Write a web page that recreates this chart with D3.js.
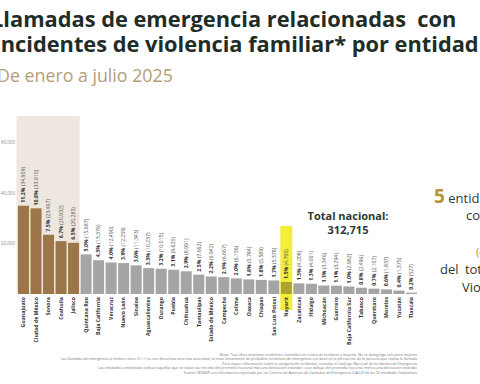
<!DOCTYPE html>
<html>
<head>
<meta charset="utf-8">
<script src="https://cdn.jsdelivr.net/npm/d3@7"></script>
<style>
  body { margin: 0; background: #fff; }
  svg { display: block; font-family: "Open Sans", sans-serif; }
</style>
</head>
<body>
<svg id="chart" width="480" height="384"></svg>
<script>
// entidades, de mayor a menor
const states = ["Guanajuato", "Ciudad de México", "Sonora", "Coahuila", "Jalisco",
  "Quintana Roo", "Baja California", "Veracruz", "Nuevo León", "Sinaloa",
  "Aguascalientes", "Durango", "Puebla", "Chihuahua", "Tamaulipas",
  "Estado de México", "Campeche", "Colima", "Oaxaca", "Chiapas",
  "San Luis Potosí", "Nayarit", "Zacatecas", "Hidalgo", "Michoacán",
  "Guerrero", "Baja California Sur", "Tabasco", "Querétaro", "Morelos",
  "Yucatán", "Tlaxcala"];
const calls = [34959, 33910, 23467, 20932, 20285,
  15687, 13376, 12490, 12259, 11343,
  10237, 10015, 9620, 8991, 7662,
  6942, 6667, 6156, 5784, 5589,
  5378, 4795, 4208, 4061, 3346,
  3294, 2982, 2496, 2107, 1837,
  1375, 527];
const shares = ["11.2%", "10.8%", "7.5%", "6.7%", "6.5%",
  "5.0%", "4.3%", "4.0%", "3.9%", "3.6%",
  "3.3%", "3.2%", "3.1%", "2.9%", "2.5%",
  "2.2%", "2.1%", "2.0%", "1.8%", "1.8%",
  "1.7%", "1.5%", "1.3%", "1.3%", "1.1%",
  "1.1%", "1.0%", "0.8%", "0.7%", "0.6%",
  "0.4%", "0.2%"];
const topStates = ["Guanajuato", "Ciudad de México", "Sonora", "Coahuila", "Jalisco"];
const markedState = "Nayarit";
const totalNacional = 312715;
const yTicks = [20000, 40000, 60000];
const notes = [
  "Nota: *Las cifras muestran incidentes cometidos en contra de hombres y mujeres. No se desagrega solo para mujeres.",
  "Las llamadas de emergencia al número único 9-1-1 no son denuncias ante una autoridad, se trata únicamente de probables incidentes de emergencia con base en la percepción de la persona que realiza la llamada.",
  "Para mayor información sobre la categoría de incidentes, consulta el Catálogo Nacional de Incidentes de Emergencia.",
  "Las entidades sombreadas indican aquellas que se sitúan por encima del promedio nacional más una desviación estándar o por debajo del promedio nacional menos una desviación estándar.",
  "Fuente: SESNSP con información reportada por los Centros de Atención de Llamadas de Emergencia (CALLE) de las 32 entidades federativas."
];

const svg = d3.select("#chart");
const fmt = d3.format(",");

// titulo
svg.append("text").attr("x", -9).attr("y", 27)
  .attr("font-size", 21.8).attr("font-weight", 700).attr("fill", "#1f2d27")
  .style("white-space", "pre")
  .text("Llamadas de emergencia relacionadas  con");
svg.append("text").attr("x", -6.5).attr("y", 52)
  .attr("font-size", 21.8).attr("font-weight", 700).attr("fill", "#1f2d27")
  .text("Incidentes de violencia familiar* por entidad");
svg.append("text").attr("x", -3).attr("y", 82)
  .attr("font-size", 17.8).attr("fill", "#b49d77")
  .text("De enero a julio 2025");

const x = d3.scaleBand().domain(states).range([18, 417]).paddingInner(0.12).paddingOuter(0);
const y = d3.scaleLinear().domain([0, 60000]).range([294, 142.5]);

// fondo de las 5 entidades principales
const xTopEnd = x(topStates[topStates.length - 1]) + x.bandwidth();
svg.append("rect")
  .attr("x", x(topStates[0]) - 1.5).attr("y", 116)
  .attr("width", xTopEnd - x(topStates[0]) + 2).attr("height", y(0) - 116)
  .attr("fill", "#ede7e0");

// resaltado Nayarit
svg.append("rect")
  .attr("x", x(markedState) - 0.5).attr("y", 226)
  .attr("width", x.bandwidth() + 1).attr("height", 84)
  .attr("fill", "#f3ee3a");

// eje y
svg.append("g").selectAll("text").data(yTicks).join("text")
  .attr("x", 15).attr("y", d => y(d)).attr("dy", "0.35em")
  .attr("text-anchor", "end").attr("font-size", 4.5).attr("fill", "#8a8a8a")
  .text(d => fmt(d));

const data = states.map((s, i) => ({ state: s, value: calls[i], share: shares[i] }));

svg.append("g").selectAll("rect").data(data).join("rect")
  .attr("x", d => x(d.state)).attr("y", d => y(d.value))
  .attr("width", x.bandwidth()).attr("height", d => y(0) - y(d.value))
  .attr("fill", d => topStates.includes(d.state) ? "#9c7548"
    : d.state === markedState ? "#aaa52e" : "#a5a5a5");

// etiquetas de valor
const vl = svg.append("g").selectAll("text").data(data).join("text")
  .attr("transform", d => `translate(${x(d.state) + x.bandwidth() / 2 + 1.8},${y(d.value) - 3}) rotate(-90)`)
  .attr("font-size", 5.2).attr("fill", "#333");
vl.append("tspan").attr("font-weight", 700).text(d => d.share);
vl.append("tspan").attr("fill", "#555").text(d => " (" + fmt(d.value) + ")");

// etiquetas de entidad
svg.append("g").selectAll("text").data(data).join("text")
  .attr("transform", d => `translate(${x(d.state) + x.bandwidth() / 2 + 1.8},297) rotate(-90)`)
  .attr("text-anchor", "end").attr("font-size", 5.2).attr("font-weight", 700).attr("fill", "#333")
  .text(d => d.state);

// total nacional
svg.append("text").attr("x", 348).attr("y", 220).attr("text-anchor", "middle")
  .attr("font-size", 11).attr("font-weight", 700).attr("fill", "#2b3a34")
  .text("Total nacional:");
svg.append("text").attr("x", 348).attr("y", 234).attr("text-anchor", "middle")
  .attr("font-size", 11).attr("font-weight", 700).attr("fill", "#2b3a34")
  .text(fmt(totalNacional));

// texto lateral
const side = svg.append("text").attr("x", 434).attr("y", 203).attr("fill", "#2b3a34").attr("font-size", 13);
side.append("tspan").attr("font-size", 19).attr("font-weight", 700).attr("fill", "#b8952e").text("5");
side.append("tspan").text(" entidades");
svg.append("text").attr("x", 466).attr("y", 220).attr("font-size", 13).attr("fill", "#2b3a34").text("concentran el");
svg.append("text").attr("x", 476).attr("y", 256).attr("font-size", 11).attr("fill", "#b8952e").text("(42.7%)");
svg.append("text").attr("x", 440).attr("y", 274).attr("font-size", 13).attr("fill", "#2b3a34").attr("word-spacing", 3).text("del total de llamadas por");
svg.append("text").attr("x", 462).attr("y", 292).attr("font-size", 13).attr("fill", "#2b3a34").text("Violencia familiar");

// notas
svg.append("g").selectAll("text").data(notes).join("text")
  .attr("x", 418).attr("y", (d, i) => 356 + i * 4.4)
  .attr("text-anchor", "end").attr("font-size", 3.6).attr("fill", "#777")
  .text(d => d);
</script>
</body>
</html>
